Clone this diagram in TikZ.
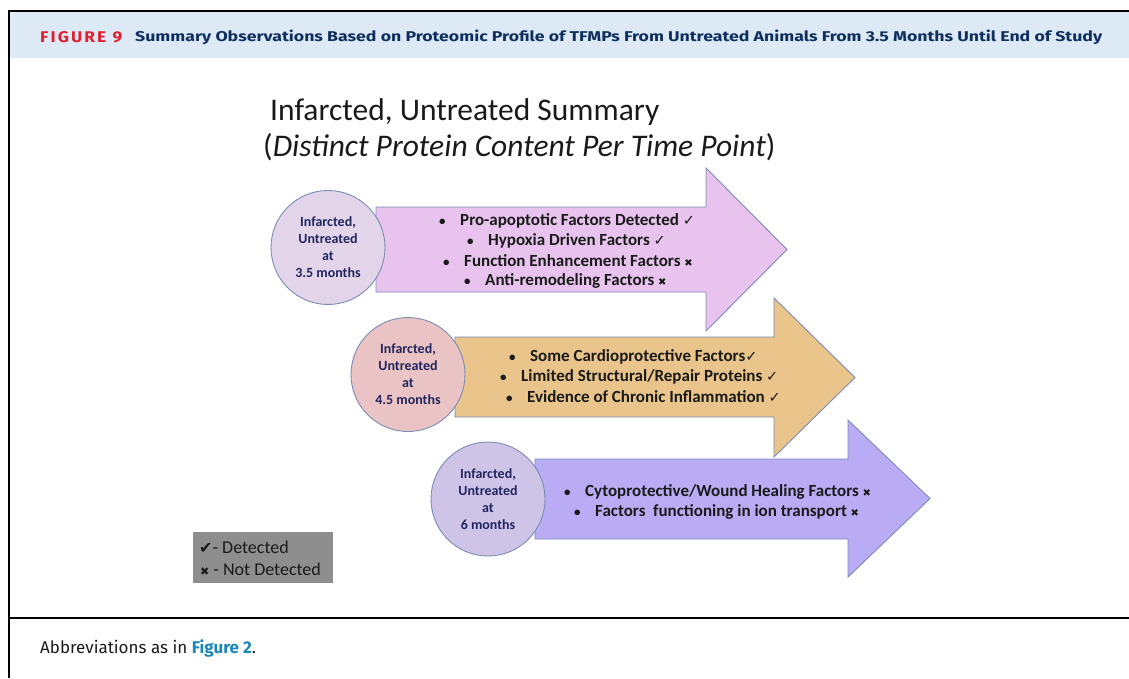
\documentclass[tikz,border=0pt]{standalone}
\usepackage{fontspec}
\setmainfont{Carlito}
\newfontfamily\hdr{Fira Sans}
\newfontfamily\hdrsp[LetterSpace=12]{Fira Sans}
\newfontfamily\symf{DejaVu Sans}
\definecolor{bandblue}{HTML}{DDE9F5}
\definecolor{hdrred}{HTML}{E0202E}
\definecolor{hdrnavy}{HTML}{0F2F5E}
\definecolor{linkblue}{HTML}{1A87B5}
\definecolor{edgeblue}{HTML}{7A8CB4}
\definecolor{pinkA}{HTML}{E8C3EE}
\definecolor{orangeA}{HTML}{E9C48B}
\definecolor{purpleA}{HTML}{B9ACF5}
\definecolor{circA}{HTML}{E2D5E9}
\definecolor{circB}{HTML}{EAC4C4}
\definecolor{circC}{HTML}{CEC4E7}
\definecolor{circtext}{HTML}{23265E}
\definecolor{bodytext}{HTML}{1A1A1A}
\definecolor{legendgray}{HTML}{8E8E8E}
\newcommand{\ckm}{{\symf\fontsize{14.5}{14.5}\selectfont ✓}}
\newcommand{\xm}{{\symf\fontsize{10}{10}\selectfont ✖}}
\tikzset{
  arrowshape/.style={draw=edgeblue, line width=0.9pt, line join=miter},
  circ/.style={circle, draw=edgeblue, line width=0.9pt, minimum size=114pt, inner sep=0pt,
    align=center, text=circtext, font=\bfseries\fontsize{14}{17}\selectfont},
  bline/.style={anchor=west, inner sep=0pt, text=bodytext, font=\bfseries\fontsize{17}{20}\selectfont},
  titletext/.style={anchor=west, inner sep=0pt, text=bodytext, font=\fontsize{31.5}{36}\selectfont},
  legtext/.style={anchor=west, inner sep=0pt, text=bodytext, font=\fontsize{18}{20}\selectfont},
}
\newcommand{\bul}[1]{\makebox[21pt][l]{\fontsize{13}{13}\selectfont•}#1}
\begin{document}
\begin{tikzpicture}[x=1pt, y=-1pt]
\useasboundingbox (0,0) rectangle (1129,678);
% frame
\fill[bandblue] (9,12) rectangle (1129,58);
\draw[line width=2pt] (8,10.5) -- (1129,10.5);
\draw[line width=2pt] (8.5,10) -- (8.5,678);
\draw[line width=2pt] (8,617.5) -- (1129,617.5);
% header
\node[anchor=west, inner sep=0pt, text=hdrred] (fig) at (40,37) {\resizebox{82pt}{11pt}{\hdrsp\bfseries FIGURE 9}};
\node[anchor=west, inner sep=0pt, text=hdrnavy] (hdrtitle) at (135,37) {\resizebox{967pt}{11.5pt}{\hdr\bfseries Summary Observations Based on Proteomic Profile of TFMPs From Untreated Animals From 3.5 Months Until End of Study}};
% title
\node[titletext] (t1) at (270,112) {Infarcted, Untreated Summary};
\node[titletext] (t2) at (263,147) {(\textit{Distinct Protein Content Per Time Point})};
% arrow 1
\path[arrowshape, fill=pinkA] (376,207) -- (706,207) -- (706,168) -- (787,249.5) -- (706,331) -- (706,292) -- (376,292) -- cycle;
\node[circ, fill=circA] (c1) at (328,247.5) {Infarcted,\\Untreated\\at\\3.5 months};
\node[bline] (a1l1) at (439,221) {\bul{Pro-apoptotic Factors Detected \ckm}};
\node[bline] (a1l2) at (467,241) {\bul{Hypoxia Driven Factors \ckm}};
\node[bline] (a1l3) at (443,261) {\bul{Function Enhancement Factors \xm}};
\node[bline] (a1l4) at (464,281) {\bul{Anti-remodeling Factors \xm}};
% arrow 2
\path[arrowshape, fill=orangeA] (455,337) -- (774,337) -- (774,298) -- (855,377.5) -- (774,457) -- (774,417) -- (455,417) -- cycle;
\node[circ, fill=circB] (c2) at (408,374.5) {Infarcted,\\Untreated\\at\\4.5 months};
\node[bline] (a2l1) at (509,357) {\bul{Some Cardioprotective Factors\ckm}};
\node[bline] (a2l2) at (500,377) {\bul{Limited Structural/Repair Proteins \ckm}};
\node[bline] (a2l3) at (506,397) {\bul{Evidence of Chronic Inflammation \ckm}};
% arrow 3
\path[arrowshape, fill=purpleA] (535,459) -- (848,459) -- (848,420) -- (930,498.5) -- (848,577) -- (848,539) -- (535,539) -- cycle;
\node[circ, fill=circC] (c3) at (488,499) {Infarcted,\\Untreated\\at\\6 months};
\node[bline] (a3l1) at (564,492) {\bul{Cytoprotective/Wound Healing Factors \xm}};
\node[bline] (a3l2) at (574,512) {\bul{Factors\ \ functioning in ion transport \xm}};
% legend
\node[fill=legendgray, minimum width=140pt, minimum height=51pt, inner sep=0pt] (legend) at (263,557.5) {};
\node[legtext] (lg1) at (199,547) {{\symf\fontsize{16}{16}\selectfont ✔}- Detected};
\node[legtext] (lg2) at (200,569) {{\symf\fontsize{11}{11}\selectfont ✖} - Not Detected};
% caption
\node[anchor=west, inner sep=0pt, text=bodytext, font=\hdr\fontsize{17}{19}\selectfont] (cap) at (40,648) {Abbreviations as in \textcolor{linkblue}{\bfseries Figure 2}.};
\end{tikzpicture}
\end{document}
